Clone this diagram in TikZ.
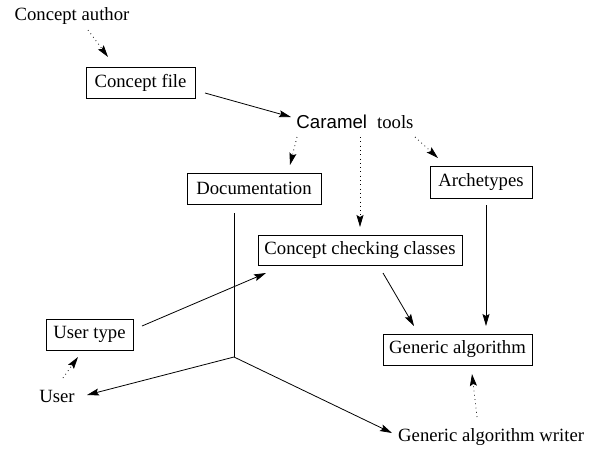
\documentclass[tikz,border=0pt]{standalone}
\usepackage{fontspec}
\setmainfont{Liberation Serif}
\newfontfamily\carfont{Liberation Sans}
\usetikzlibrary{arrows.meta,calc}
\begin{document}
\begin{tikzpicture}[x=1pt,y=-1pt,
  every node/.style={font=\fontsize{18.7}{22}\selectfont, inner sep=0pt},
  box/.style={draw, line width=0.8pt, minimum height=31pt},
  conn/.style={line width=0.8pt, -{Stealth[length=12pt,width=7pt,inset=2pt]}},
  dotconn/.style={conn, dash pattern=on 0.8pt off 3.5pt},
  plain/.style={line width=0.8pt}]
\useasboundingbox (0,0) rectangle (603,448);
\node (author) at (72,16) {Concept author};
\node[box, minimum width=109pt] (cfile) at (140.5,82.5) {Concept file};
\node (car) at (355,122) {{\carfont Caramel}\hspace{10pt}tools};
\node[box, minimum width=134pt] (doc) at (254,188.5) {Documentation};
\node[box, minimum width=102pt, minimum height=32pt] (arch) at (481,182) {Archetypes};
\node[box, minimum width=204pt, minimum height=30pt] (ccc) at (360,250) {Concept checking classes};
\node[box, minimum width=87pt] (utype) at (89.5,334.5) {User type};
\node (user) at (57,396) {User};
\node[box, minimum width=149pt] (ga) at (457.5,349.5) {Generic algorithm};
\node[anchor=west] (gaw) at (398,437.5) {Generic algorithm writer};
\coordinate (J) at (234,357);

\draw[dotconn] ($(author)+(16,14)$) -- ($(cfile)+(-32.5,-25.5)$);
\draw[conn] ($(cfile)+(64.5,10.5)$) -- ($(car)+(-64,-5)$);
\draw[dotconn] ($(car)+(-58,15)$) -- ($(doc)+(36,-23.5)$);
\draw[dotconn] ($(car)+(5,15)$) -- ($(ccc)+(0,-23)$);
\draw[dotconn] ($(car)+(60,15)$) -- ($(arch)+(-43,-24)$);
\draw[plain] ($(doc)+(-20,24.5)$) -- (J);
\draw[conn] (J) -- ($(user)+(30,-1)$);
\draw[conn] (J) -- ($(gaw.west)+(-6,-4.5)$);
\draw[conn] ($(utype)+(52.5,-8.5)$) -- ($(ccc)+(-94,23)$);
\draw[dotconn] ($(user)+(6,-18)$) -- ($(utype)+(-11.5,22.5)$);
\draw[conn] ($(ccc)+(23,23)$) -- ($(ga)+(-43.5,-23.5)$);
\draw[conn] ($(arch)+(5,23)$) -- ($(ga)+(28.5,-23.5)$);
\draw[dotconn] ($(gaw.west)+(79,-20.5)$) -- ($(ga)+(14.5,24.5)$);
\end{tikzpicture}
\end{document}
